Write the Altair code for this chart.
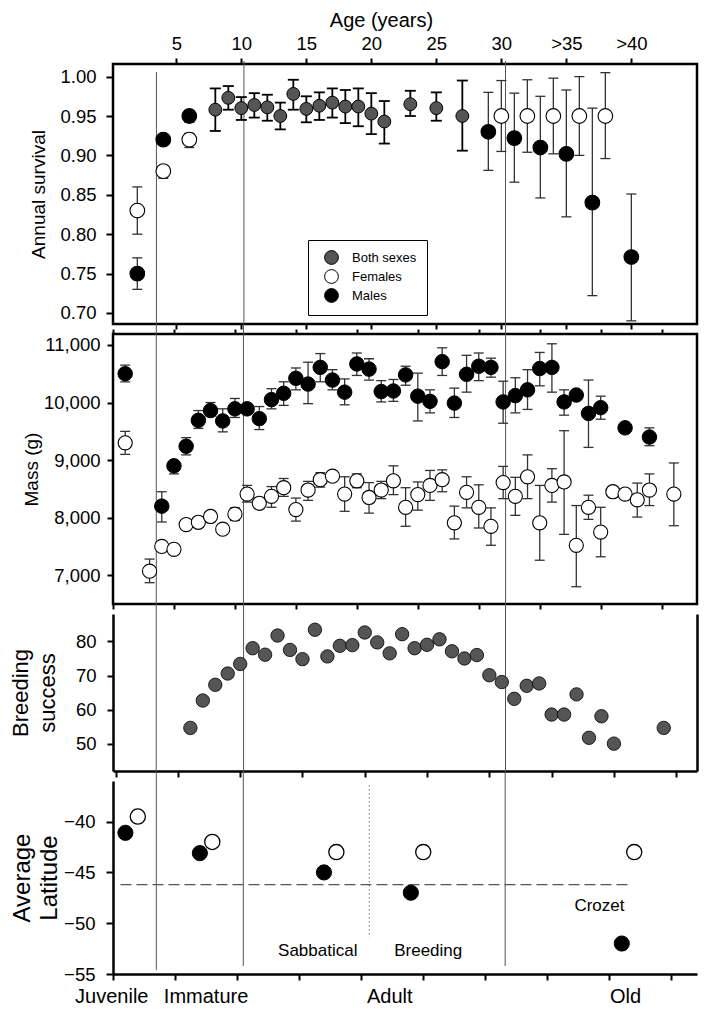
import altair as alt
import pandas as pd

FONT = "Liberation Sans"

# ---------------- data ----------------
age_ticks = [5, 10, 15, 20, 25, 30, 35, 40]
age_ticks_long = [0, 5, 10, 15, 20, 25, 30, 35, 40, 45]
legend_groups = ["Both sexes", "Females", "Males"]

# Panel 1: annual survival
surv_both_age = [8, 9, 10, 11, 12, 13, 14, 15, 16, 17, 18, 19, 20, 21, 23, 25, 27]
surv_both = [0.958, 0.973, 0.960, 0.964, 0.961, 0.950, 0.978, 0.959, 0.963, 0.967, 0.962, 0.962, 0.953, 0.943, 0.965, 0.960, 0.950]
surv_both_lo = [0.931, 0.958, 0.945, 0.948, 0.944, 0.933, 0.958, 0.942, 0.945, 0.948, 0.941, 0.937, 0.927, 0.915, 0.950, 0.944, 0.906]
surv_both_hi = [0.985, 0.988, 0.974, 0.979, 0.977, 0.967, 0.996, 0.975, 0.980, 0.985, 0.983, 0.985, 0.979, 0.969, 0.982, 0.980, 0.995]
surv_fem_age = [2, 4, 6, 30, 32, 34, 36, 38]
surv_fem = [0.830, 0.880, 0.920, 0.950, 0.950, 0.950, 0.950, 0.950]
surv_fem_lo = [0.800, 0.871, 0.910, 0.905, 0.904, 0.902, 0.900, 0.896]
surv_fem_hi = [0.860, 0.887, 0.928, 0.995, 0.996, 0.998, 1.000, 1.005]
surv_male_age = [2, 4, 6, 29, 31, 33, 35, 37, 40]
surv_male = [0.750, 0.920, 0.950, 0.930, 0.922, 0.910, 0.902, 0.840, 0.771]
surv_male_lo = [0.730, 0.914, 0.942, 0.881, 0.866, 0.846, 0.822, 0.722, 0.690]
surv_male_hi = [0.770, 0.926, 0.957, 0.980, 0.979, 0.975, 0.983, 0.960, 0.851]
surv_stage_bounds = [3.47, 10.2, 30.32]
surv_x_domain = [0.13, 45.05]
surv_y_domain = [0.686, 1.016]
surv_y_ticks = [0.70, 0.75, 0.80, 0.85, 0.90, 0.95, 1.00]

# Panel 2: mass (g)
mass_male_age = [1, 4, 5, 6, 7, 8, 9, 10, 11, 12,
                 13, 14, 15, 16, 17, 18, 19, 20, 21, 22,
                 23, 24, 25, 26, 27, 28, 29, 30, 31, 32,
                 33, 34, 35, 36, 37, 38, 39, 40, 42, 44]
mass_male = [10500, 8200, 8900, 9240, 9690, 9860, 9680, 9890, 9890, 9720,
             10050, 10160, 10420, 10320, 10610, 10390, 10180, 10670, 10580, 10190,
             10200, 10480, 10110, 10020, 10710, 9990, 10490, 10630, 10610, 10010,
             10120, 10220, 10590, 10610, 10010, 10130, 9810, 9910, 9560, 9400]
mass_male_lo = [10360, 7925, 8760, 9090, 9550, 9760, 9490, 9740, 9820, 9530,
                9890, 9950, 10220, 9980, 10360, 10220, 9960, 10470, 10390, 10010,
                10020, 10300, 9680, 9820, 10470, 9740, 10180, 10380, 10440, 9640,
                9820, 9880, 10290, 10180, 9780, 10130, 9220, 9710, 9560, 9250]
mass_male_hi = [10650, 8450, 8990, 9390, 9860, 10000, 9890, 10070, 9960, 9930,
                10240, 10360, 10600, 10700, 10850, 10570, 10410, 10860, 10760, 10380,
                10400, 10630, 10510, 10220, 10950, 10250, 10820, 10860, 10770, 10370,
                10430, 10570, 10870, 11020, 10220, 10130, 10390, 10110, 9560, 9560]
mass_fem_age = [1, 3, 4, 5, 6, 7, 8, 9, 10, 11,
                12, 13, 14, 15, 16, 17, 18, 19, 20, 21,
                22, 23, 24, 25, 26, 27, 28, 29, 30, 31,
                32, 33, 34, 35, 36, 37, 38, 39, 40, 41,
                42, 43, 44, 46]
mass_fem = [9300, 7070, 7500, 7450, 7880, 7920, 8020, 7800, 8060, 8410,
            8250, 8370, 8520, 8140, 8480, 8660, 8720, 8410, 8640, 8350,
            8480, 8640, 8180, 8400, 8560, 8660, 7910, 8440, 8180, 7850,
            8610, 8370, 8710, 7910, 8560, 8620, 7520, 8180, 7750, 8450,
            8410, 8310, 8480, 8410]
mass_fem_lo = [9100, 6870, 7500, 7450, 7820, 7860, 7960, 7800, 7950, 8270,
               8200, 8180, 8370, 7940, 8300, 8530, 8650, 8110, 8520, 8080,
               8330, 8400, 7850, 8130, 8300, 8450, 7630, 8170, 7820, 7520,
               8330, 8040, 8330, 7260, 8270, 7710, 6800, 7970, 7320, 8400,
               8410, 8010, 8210, 7860]
mass_fem_hi = [9500, 7280, 7500, 7450, 7940, 7980, 8080, 7800, 8170, 8560,
               8310, 8540, 8680, 8340, 8630, 8780, 8790, 8710, 8760, 8610,
               8630, 8900, 8520, 8620, 8820, 8830, 8200, 8710, 8570, 8170,
               8890, 8700, 9090, 8560, 8850, 9510, 8210, 8390, 8180, 8500,
               8410, 8600, 8760, 8950]
mass_stage_bounds = [3.55, 10.7, 32.2]
mass_x_domain = [0, 47.9]
mass_y_domain = [6500, 11190]
mass_y_ticks = [7000, 8000, 9000, 10000, 11000]

# Panel 3: breeding success
breed_age = [6, 7, 8, 9, 10, 11, 12, 13, 14, 15, 16, 17, 18, 19, 20, 21, 22, 23,
             24, 25, 26, 27, 28, 29, 30, 31, 32, 33, 34, 35, 36, 37, 38, 39, 40, 44]
breed_success = [54.7, 62.7, 67.3, 70.6, 73.4, 78.0, 76.1, 81.7, 77.5, 74.8, 83.4, 75.6,
                 78.7, 78.9, 82.6, 79.7, 76.5, 82.1, 78.0, 79.0, 80.6, 77.1, 75.0, 76.0,
                 70.1, 68.1, 63.2, 67.0, 67.7, 58.6, 58.6, 64.5, 51.8, 58.1, 50.1, 54.7]
breed_stage_bounds = [3.26, 10.27, 31.3]
breed_x_domain = [-0.21, 46.67]
breed_y_domain = [42.1, 88.0]
breed_y_ticks = [50, 60, 70, 80]

# Panel 4: average latitude
lat_male_age = [1, 7, 17, 24, 41]
lat_male = [-41.1, -43.1, -45.0, -47.0, -52.0]
lat_fem_age = [2, 8, 18, 25, 42]
lat_fem = [-39.5, -42.0, -43.0, -43.0, -43.0]
lat_stage_bounds = [3.49, 10.5, 31.6]
lat_split_age = [20.65]
lat_split_span = [-36.4, -51.4]
crozet_lat = [-46.2]
crozet_span = [0.6, 41.7]
phase_names = ["Sabbatical", "Breeding", "Crozet"]
phase_age = [16.5, 25.4, 39.2]
phase_lat = [-52.75, -52.75, -48.3]
stage_names = ["Juvenile", "Immature", "Adult", "Old"]
stage_label_age = [-0.1, 7.5, 22.3, 41.3]
lat_x_domain = [0, 47.06]
lat_y_domain = [-55, -36]
lat_y_ticks = [-55, -50, -45, -40]

# ---------------- layout ----------------
W = 584
H1, H2, H3, H4 = 260, 270, 157, 193
SP = 10
LINE_COLOR = "#555555"
LBL = 18.5


def sc(domain):
    return alt.Scale(domain=domain, nice=False, zero=False)


def vlines(bounds, xs, y0, y1):
    return alt.Chart(pd.DataFrame({"b": bounds})).mark_rule(
        color=LINE_COLOR, strokeWidth=1
    ).encode(
        x=alt.X("b:Q", scale=xs, axis=None),
        y=alt.value(y0),
        y2=alt.value(y1),
    )


def errbars(df, xs, ys, color, width, cap, x_axis=None):
    base = alt.Chart(df)
    stem = base.mark_rule(color=color, strokeWidth=width).encode(
        x=alt.X("age:Q", scale=xs, axis=None),
        y=alt.Y("lo:Q", scale=ys, axis=None),
        y2="hi:Q",
    )
    caps = base.transform_fold(["lo", "hi"], as_=["end", "val"]).mark_tick(
        orient="horizontal", size=cap, thickness=width, color=color, opacity=1
    ).encode(
        x=alt.X("age:Q", scale=xs, axis=x_axis),
        y=alt.Y("val:Q", scale=ys, axis=None),
    )
    return stem, caps


def ticks_axis(orient, values, size=6):
    return alt.Axis(orient=orient, values=values, labels=False, tickSize=size,
                    domain=False, title=None, grid=False)


# ---------------- panel 1 ----------------
xs1 = sc(surv_x_domain)
ys1 = sc(surv_y_domain)

both_df = pd.DataFrame({"age": surv_both_age, "lo": surv_both_lo, "hi": surv_both_hi})
sex_df = pd.DataFrame({
    "age": surv_fem_age + surv_male_age,
    "lo": surv_fem_lo + surv_male_lo,
    "hi": surv_fem_hi + surv_male_hi,
})
both_pts_df = pd.DataFrame({"age": surv_both_age, "v": surv_both,
                            "group": ["Both sexes"] * len(surv_both_age)})
sex_pts_df = pd.DataFrame({
    "age": surv_fem_age + surv_male_age,
    "v": surv_fem + surv_male,
    "group": ["Females"] * len(surv_fem_age) + ["Males"] * len(surv_male_age),
})

sex_stem1, sex_caps1 = errbars(sex_df, xs1, ys1, "#333333", 1.3, 10,
                               x_axis=ticks_axis("bottom", age_ticks, 5))
both_stem1, both_caps1 = errbars(both_df, xs1, ys1, "black", 1.8, 11)

top_axis = alt.Axis(
    orient="top", values=age_ticks,
    labelExpr="datum.value >= 35 ? '>' + datum.label : datum.label",
    title="Age (years)", titleFontSize=20, labelFontSize=LBL, tickSize=6,
    labelPadding=5, titlePadding=4, domain=False, grid=False, titleX=268,
)
y_axis1 = alt.Axis(
    orient="left", values=surv_y_ticks, format=".2f", title="Annual survival",
    titleFontSize=19, labelFontSize=LBL, tickSize=7, labelPadding=10,
    domain=False, grid=False,
    titleX=-69, titleBaseline="alphabetic", titleAngle=270,
)


def fill_enc():
    return alt.Fill(
        "group:N",
        scale=alt.Scale(domain=legend_groups, range=["#555555", "#ffffff", "#000000"]),
        legend=alt.Legend(
            orient="none", legendX=195, legendY=176, title=None,
            strokeColor="black", fillColor="white", padding=10,
            symbolType="circle", symbolSize=190, symbolStrokeColor="black",
            symbolStrokeWidth=1, symbolOffset=6, labelOffset=13,
            labelFontSize=13, labelFont=FONT, labelColor="black", rowPadding=0,
        ),
    )


both_pts1 = alt.Chart(both_pts_df).mark_circle(
    stroke="black", strokeWidth=1, opacity=1, size=165
).encode(
    x=alt.X("age:Q", scale=xs1, axis=top_axis),
    y=alt.Y("v:Q", scale=ys1, axis=y_axis1),
    fill=fill_enc(),
)
sex_pts1 = alt.Chart(sex_pts_df).mark_circle(
    stroke="black", strokeWidth=1.1, opacity=1, size=215
).encode(
    x=alt.X("age:Q", scale=xs1, axis=None),
    y=alt.Y("v:Q", scale=ys1, axis=None),
    fill=fill_enc(),
)

panel1 = alt.layer(
    vlines(surv_stage_bounds[:1], xs1, 8, H1),
    vlines(surv_stage_bounds[1:], xs1, -3, H1),
    sex_stem1, sex_caps1, both_stem1, both_caps1, both_pts1, sex_pts1,
).resolve_axis(x="independent", y="independent").properties(
    width=W, height=H1, view=alt.ViewBackground(stroke="black", strokeWidth=2.5)
)

# ---------------- panel 2 ----------------
xs2 = sc(mass_x_domain)
ys2 = sc(mass_y_domain)
mf_df = pd.DataFrame({"age": mass_fem_age, "v": mass_fem, "lo": mass_fem_lo, "hi": mass_fem_hi})
mm_df = pd.DataFrame({"age": mass_male_age, "v": mass_male, "lo": mass_male_lo, "hi": mass_male_hi})

f_stem2, f_caps2 = errbars(mf_df, xs2, ys2, "#333333", 1.3, 10,
                           x_axis=ticks_axis("bottom", age_ticks_long, 5))
m_stem2, m_caps2 = errbars(mm_df, xs2, ys2, "#333333", 1.3, 10,
                           x_axis=ticks_axis("top", age_ticks_long, 5))
y_axis2 = alt.Axis(
    orient="left", values=mass_y_ticks, format=",.0f", title="Mass (g)", titleFontSize=19,
    labelFontSize=LBL, tickSize=6, labelPadding=7, domain=False, grid=False,
    titleX=-76, titleBaseline="alphabetic", titleAngle=270,
)
f_pts2 = alt.Chart(mf_df).mark_circle(fill="white", stroke="black", strokeWidth=1.1,
                                      size=200, opacity=1).encode(
    x=alt.X("age:Q", scale=xs2, axis=None),
    y=alt.Y("v:Q", scale=ys2, axis=y_axis2),
)
m_pts2 = alt.Chart(mm_df).mark_circle(fill="black", stroke="black", strokeWidth=1,
                                      size=210, opacity=1).encode(
    x=alt.X("age:Q", scale=xs2, axis=None),
    y=alt.Y("v:Q", scale=ys2, axis=None),
)
panel2 = alt.layer(
    vlines(mass_stage_bounds, xs2, -SP, H2),
    f_stem2, f_caps2, m_stem2, m_caps2, f_pts2, m_pts2,
).resolve_axis(x="independent", y="independent").properties(
    width=W, height=H2, view=alt.ViewBackground(stroke="black", strokeWidth=2.5)
)

# ---------------- panel 3 ----------------
xs3 = sc(breed_x_domain)
ys3 = sc(breed_y_domain)
b_df = pd.DataFrame({"age": breed_age, "v": breed_success})
y_axis3 = alt.Axis(
    orient="left", values=breed_y_ticks, title=["Breeding", "success"], titleFontSize=22,
    titleLineHeight=27, labelFontSize=LBL, tickSize=6, labelPadding=11,
    domain=True, domainWidth=2.5, grid=False,
    titleX=-86, titleBaseline="alphabetic", titleAngle=270,
)
pts3 = alt.Chart(b_df).mark_circle(fill="#555555", stroke="black", strokeWidth=0.8,
                                   size=180, opacity=1).encode(
    x=alt.X("age:Q", scale=xs3, axis=alt.Axis(
        orient="bottom", values=age_ticks_long, labels=False, tickSize=6,
        domain=True, domainWidth=2.5, title=None, grid=False)),
    y=alt.Y("v:Q", scale=ys3, axis=y_axis3),
)
right3 = alt.Chart(b_df).mark_circle(opacity=0).encode(
    x=alt.X("age:Q", scale=xs3, axis=None),
    y=alt.Y("v:Q", scale=ys3, axis=alt.Axis(
        orient="right", labels=False, ticks=False, domain=True, domainWidth=2.5,
        title=None, grid=False)),
)
panel3 = alt.layer(
    vlines(breed_stage_bounds, xs3, -SP, H3), pts3, right3,
).resolve_axis(x="independent", y="independent").properties(
    width=W, height=H3, view=alt.ViewBackground(stroke="transparent")
)

# ---------------- panel 4 ----------------
xs4 = sc(lat_x_domain)
ys4 = sc(lat_y_domain)
lm_df = pd.DataFrame({"age": lat_male_age, "v": lat_male})
lf_df = pd.DataFrame({"age": lat_fem_age, "v": lat_fem})
y_axis4 = alt.Axis(
    orient="left", values=lat_y_ticks, title=["Average", "Latitude"], titleFontSize=24,
    titleLineHeight=27, labelFontSize=LBL, tickSize=7, labelPadding=11,
    domain=True, domainWidth=2.5, grid=False,
    titleX=-84, titleBaseline="alphabetic", titleAngle=270,
)
x_axis4 = alt.Axis(orient="bottom", values=age_ticks_long, labels=False, tickSize=6,
                   domain=True, domainWidth=2.5, title=None, grid=False)
crozet = alt.Chart(pd.DataFrame({"x0": crozet_span[:1], "x1": crozet_span[1:],
                                 "y": crozet_lat})).mark_rule(
    color="#555555", strokeWidth=1.3, strokeDash=[11, 5]
).encode(
    x=alt.X("x0:Q", scale=xs4, axis=None), x2="x1:Q",
    y=alt.Y("y:Q", scale=ys4, axis=None),
)
split = alt.Chart(pd.DataFrame({"x": lat_split_age, "y0": lat_split_span[:1],
                                "y1": lat_split_span[1:]})).mark_rule(
    color="#777777", strokeWidth=1, strokeDash=[1.5, 2.5]
).encode(
    x=alt.X("x:Q", scale=xs4, axis=None),
    y=alt.Y("y0:Q", scale=ys4, axis=None), y2="y1:Q",
)
phase_txt = alt.Chart(pd.DataFrame({"x": phase_age, "y": phase_lat, "t": phase_names})).mark_text(
    font=FONT, fontSize=17, color="black"
).encode(
    x=alt.X("x:Q", scale=xs4, axis=None),
    y=alt.Y("y:Q", scale=ys4, axis=None),
    text="t:N",
)
stage_txt = alt.Chart(pd.DataFrame({"x": stage_label_age, "t": stage_names})).mark_text(
    font=FONT, fontSize=20, color="black", baseline="middle"
).encode(
    x=alt.X("x:Q", scale=xs4, axis=None),
    y=alt.value(H4 + 23),
    text="t:N",
)
lm_pts = alt.Chart(lm_df).mark_circle(fill="black", stroke="black", strokeWidth=1,
                                      size=230, opacity=1).encode(
    x=alt.X("age:Q", scale=xs4, axis=x_axis4),
    y=alt.Y("v:Q", scale=ys4, axis=y_axis4),
)
lf_pts = alt.Chart(lf_df).mark_circle(fill="white", stroke="black", strokeWidth=1.3,
                                      size=230, opacity=1).encode(
    x=alt.X("age:Q", scale=xs4, axis=None),
    y=alt.Y("v:Q", scale=ys4, axis=None),
)
panel4 = alt.layer(
    vlines(lat_stage_bounds[:1], xs4, -SP, H4 - 4),
    vlines(lat_stage_bounds[1:], xs4, -SP, H4 - 8),
    split, crozet, phase_txt, stage_txt, lm_pts, lf_pts,
).resolve_axis(x="independent", y="independent").properties(
    width=W, height=H4, view=alt.ViewBackground(stroke="transparent")
)

chart = alt.vconcat(panel1, panel2, panel3, panel4, spacing=SP, bounds="flush").resolve_scale(
    fill="independent"
).properties(padding=0, background="white").configure_view(
    stroke="transparent"
).configure_axis(
    labelFont=FONT, titleFont=FONT, labelColor="black", titleColor="black",
    tickColor="black", domainColor="black", tickWidth=2, titleFontWeight="normal",
)

chart.save("out.html", embed_options={"renderer": "svg", "actions": False})
